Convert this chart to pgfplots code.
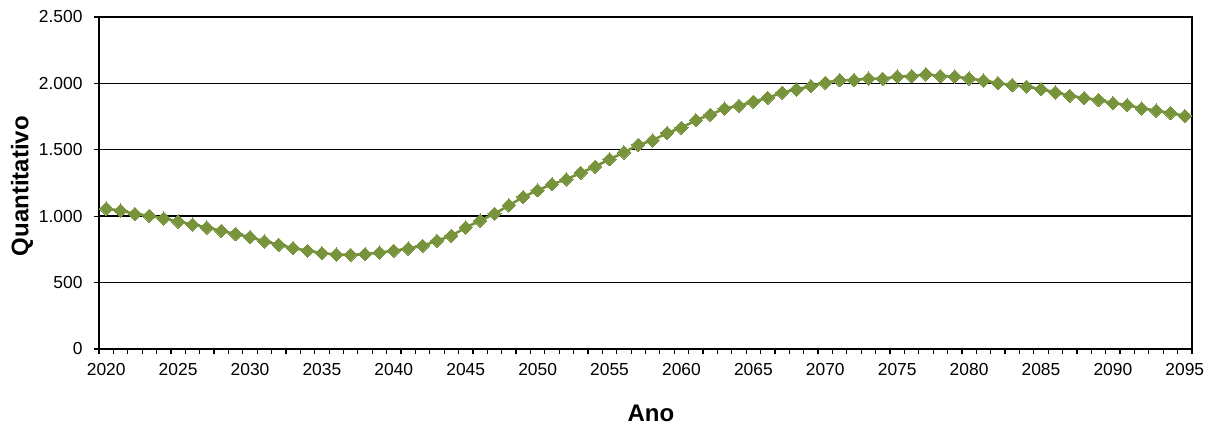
\documentclass[border=0pt]{standalone}
\usepackage{fontspec}
\setmainfont{Liberation Sans}
\usepackage{pgfplots}
\pgfplotsset{compat=1.18}
\definecolor{olivegreen}{RGB}{119,147,60}
\begin{document}
\begin{tikzpicture}
\useasboundingbox (-49.5pt,-38.5pt) rectangle (557pt,174.5pt);
\begin{axis}[
  at={(0,0)}, anchor=south west,
  scale only axis, width=546.5pt, height=166pt,
  xmin=2019.5, xmax=2095.5, ymin=0, ymax=2500,
  xtick={2020,2025,...,2095},
  minor xtick={2019.5,2020.5,...,2095.5},
  major x tick style={draw=none},
  ytick={0,500,...,2500},
  tick align=outside,
  xtick pos=bottom, ytick pos=left,
  major tick length=2.75pt, minor tick length=2.75pt,
  tick style={black, line width=0.6pt},
  axis line style={black, line width=1pt},
  ymajorgrids, major grid style={black, line width=0.7pt},
  scaled y ticks=false,
  /pgf/number format/.cd, 1000 sep={.}, assume math mode=true,
  /pgfplots/.cd,
  xticklabel={\pgfmathprintnumber[1000 sep={}]{\tick}},
  ticklabel style={font=\fontsize{8.7}{10}\selectfont},
  xticklabel style={yshift=-1pt},
  yticklabel style={xshift=-2pt},
  xlabel={Ano}, ylabel={Quantitativo},
  label style={font=\bfseries\fontsize{12}{14}\selectfont},
  xlabel style={at={(axis description cs:0.505,-0.1928)}, anchor=center},
  ylabel style={at={(axis description cs:-0.0704,0.49)}, anchor=center},
  clip=false,
]
\addplot[color=olivegreen, line width=1.3pt, mark=square*, mark size=2.35pt,
  mark options={rotate=45, fill=olivegreen, draw=olivegreen, line width=0pt}] coordinates {
(2020,1057) (2021,1042) (2022,1017) (2023,1003) (2024,983) (2025,960)
(2026,938) (2027,914) (2028,890) (2029,866) (2030,843) (2031,810)
(2032,785) (2033,760) (2034,740) (2035,722) (2036,711) (2037,709)
(2038,714) (2039,726) (2040,740) (2041,756) (2042,777) (2043,815)
(2044,853) (2045,914) (2046,967) (2047,1018) (2048,1081) (2049,1145)
(2050,1195) (2051,1241) (2052,1277) (2053,1327) (2054,1373) (2055,1429)
(2056,1480) (2057,1538) (2058,1571) (2059,1627) (2060,1665) (2061,1723)
(2062,1764) (2063,1810) (2064,1832) (2065,1862) (2066,1892) (2067,1930)
(2068,1955) (2069,1980) (2070,2005) (2071,2025) (2072,2025) (2073,2037)
(2074,2035) (2075,2052) (2076,2055) (2077,2068) (2078,2055) (2079,2052)
(2080,2037) (2081,2022) (2082,2002) (2083,1987) (2084,1975) (2085,1957)
(2086,1932) (2087,1907) (2088,1890) (2089,1875) (2090,1852) (2091,1837)
(2092,1812) (2093,1795) (2094,1777) (2095,1755)
};
\end{axis}
\end{tikzpicture}
\end{document}
